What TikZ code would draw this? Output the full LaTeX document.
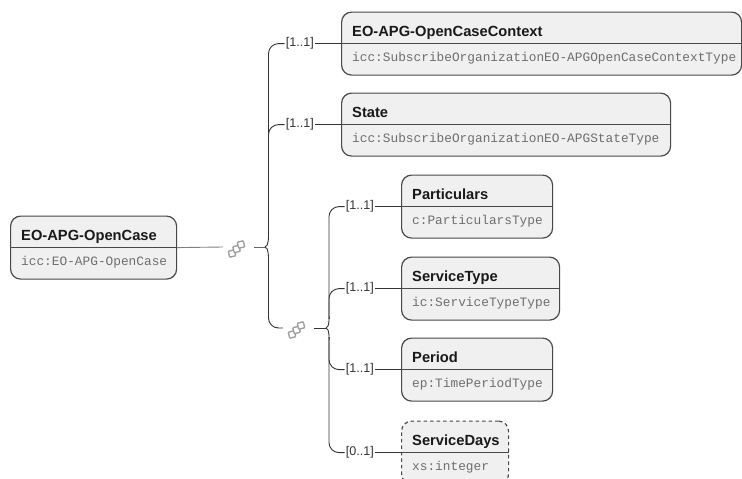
\documentclass[tikz,border=0pt]{standalone}
\usepackage{fontspec}
\setmainfont{Liberation Sans}
\setmonofont{Liberation Mono}

\definecolor{boxfill}{HTML}{F0F0F0}
\definecolor{boxline}{HTML}{484848}
\definecolor{typegrey}{HTML}{6E6E6E}
\definecolor{icongrey}{HTML}{A0A0A0}

\tikzset{
  elembox/.style={draw=boxline, line width=1.2pt, fill=boxfill, rounded corners=10pt,
    anchor=north west, minimum height=63pt, inner sep=0pt},
  titletext/.style={anchor=base west, inner sep=0pt, font=\fontsize{14.7}{16}\selectfont\bfseries, text=black!90},
  typetext/.style={anchor=base west, inner sep=0pt, font=\fontsize{12.8}{15}\selectfont\ttfamily, text=typegrey},
  cardtext/.style={inner sep=1pt, anchor=east, xshift=-26pt, font=\fontsize{12.6}{14}\selectfont, text=black!80},
  wire/.style={draw=black!80, line width=0.9pt},
  seqspot/.style={minimum width=31pt, minimum height=16pt, inner sep=0pt},
  seqsquare/.style={draw=icongrey, line width=1.4pt, fill=white, rounded corners=0.8pt,
    minimum size=6.2pt, inner sep=0pt, rotate=15}
}

% three small linked squares
\newcommand{\seqicon}[1]{
  \foreach \n/\dx/\dy in {0/-6.5/-6.5, 1/-2/-2, 2/2.5/2.5}
    \node[seqsquare] (#1sq\n) at ([xshift=\dx pt,yshift=\dy pt]#1.center) {};
}

% box with a name on top and a type below the divider
\newcommand{\elem}[6][solid]{
  \node[elembox, #1, minimum width=#4pt] (#2) at (#3) {};
  \draw[boxline, line width=1pt] (#2.west) -- (#2.east);
  \node[titletext] (#2name) at ([xshift=11pt,yshift=7.5pt]#2.west) {#5};
  \node[typetext] (#2type) at ([xshift=11pt,yshift=-18pt]#2.west) {#6};
}

\begin{document}
\begin{tikzpicture}[x=1pt,y=-1pt]

  % Page size
  \clip (0,0) rectangle (742,479);

  % Root element
  \elem{root}{10,215.5}{166}{EO-APG-OpenCase}{icc:EO-APG-OpenCase}

  % First level
  \elem{context}{341,11.5}{400}{EO-APG-OpenCaseContext}{icc:SubscribeOrganizationEO-APGOpenCaseContextType}
  \elem{state}{341,92.5}{329}{State}{icc:SubscribeOrganizationEO-APGStateType}

  % Second level
  \elem{particulars}{401,174.5}{151}{Particulars}{c:ParticularsType}
  \elem{servicetype}{401,256.5}{158}{ServiceType}{ic:ServiceTypeType}
  \elem{period}{401,337.5}{151}{Period}{ep:TimePeriodType}
  \elem[dash pattern=on 3.5pt off 3pt]{servicedays}{401,420.5}{107}{ServiceDays}{xs:integer}

  % Sequence icons
  \node[seqspot] (seqA) at (238.5,247) {};
  \node[seqspot] (seqB) at (298.5,328) {};
  \seqicon{seqA}
  \seqicon{seqB}

  % Cardinality labels
  \node[cardtext] (cardcontext) at (context.west) {[1..1]};
  \node[cardtext] (cardstate) at (state.west) {[1..1]};
  \node[cardtext] (cardparticulars) at (particulars.west) {[1..1]};
  \node[cardtext] (cardservicetype) at (servicetype.west) {[1..1]};
  \node[cardtext] (cardperiod) at (period.west) {[1..1]};
  \node[cardtext] (cardservicedays) at (servicedays.west) {[0..1]};

  % Junctions of the two brackets
  \coordinate (joinA) at (265,247);
  \coordinate (joinAup) at (268.5,238);
  \coordinate (joinAdown) at (268.5,256);
  \coordinate (joinB) at (326,328);
  \coordinate (joinBup) at (329,319);
  \coordinate (joinBdown) at (329,337);

  % Root to first bracket
  \draw[wire, draw=black!50] (root.east) -- (seqA.west);
  \draw[wire, draw=black!60] (seqA.east) -- (joinA);
  \draw[wire] (joinA) to[out=0,in=90] (joinAup);
  \draw[wire] (joinA) to[out=0,in=-90] (joinAdown);
  \draw[wire, rounded corners=10pt] (joinAup) |- (cardcontext.west);
  \draw[wire, rounded corners=10pt] (joinAup) |- (cardstate.west);
  \draw[wire, rounded corners=10pt] (joinAdown) |- (seqB.west);

  % Second bracket
  \draw[wire] (seqB.east) -- (joinB);
  \draw[wire] (joinB) to[out=0,in=90] (joinBup);
  \draw[wire] (joinB) to[out=0,in=-90] (joinBdown);
  \draw[wire, rounded corners=10pt] (joinBup) |- (cardparticulars.west);
  \draw[wire, rounded corners=10pt] (joinBup) |- (cardservicetype.west);
  \draw[wire, rounded corners=10pt] (joinBdown) |- (cardperiod.west);
  \draw[wire, rounded corners=10pt] (joinBdown) |- (cardservicedays.west);

  % Labels to boxes
  \draw[wire] (cardcontext.east) -- (context.west);
  \draw[wire] (cardstate.east) -- (state.west);
  \draw[wire] (cardparticulars.east) -- (particulars.west);
  \draw[wire] (cardservicetype.east) -- (servicetype.west);
  \draw[wire] (cardperiod.east) -- (period.west);
  \draw[wire] (cardservicedays.east) -- (servicedays.west);

\end{tikzpicture}
\end{document}
